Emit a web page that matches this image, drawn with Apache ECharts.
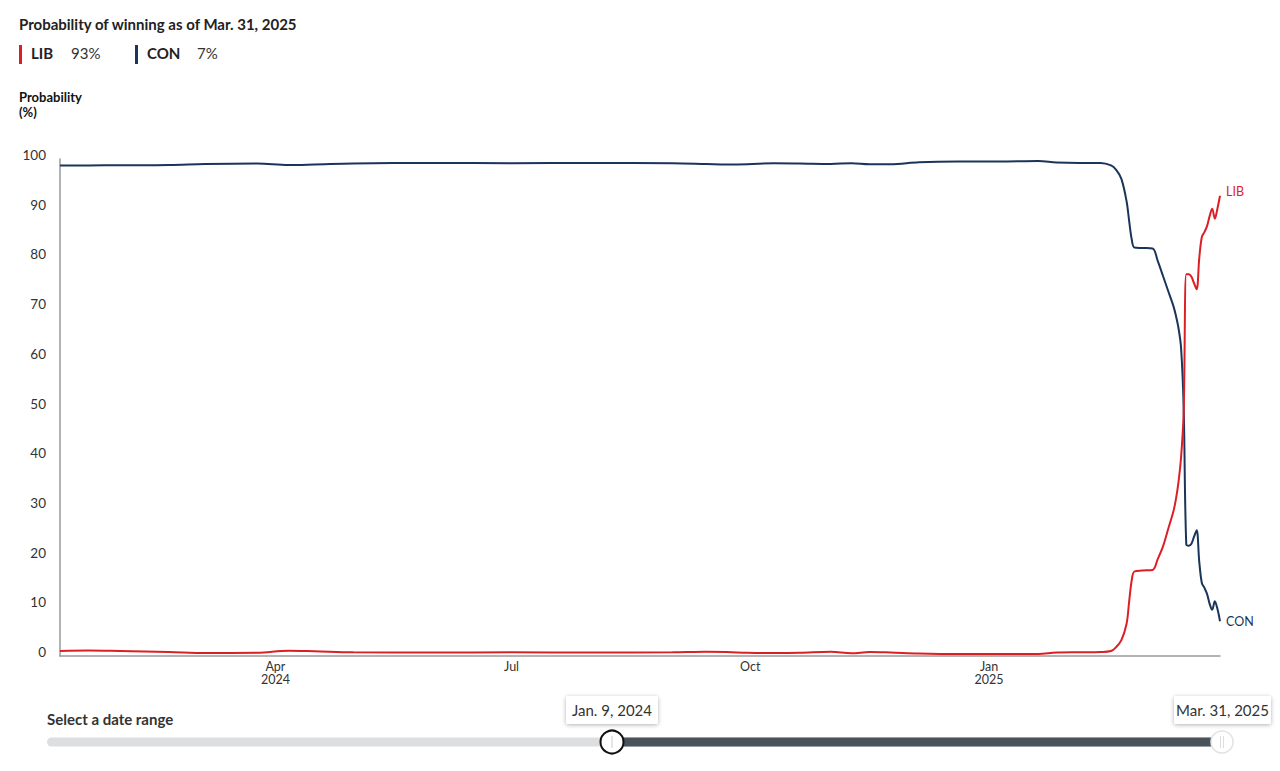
<!DOCTYPE html>
<html>
<head>
<meta charset="utf-8">
<script src="https://cdn.jsdelivr.net/npm/echarts@6/dist/echarts.min.js"></script>
<style>
html,body{margin:0;padding:0;background:#fff;}
#chart{width:1280px;height:771px;}
</style>
</head>
<body>
<div id="chart"></div>
<script>
// ---- Data ----
const dates = [
  '2024-01-09','2024-01-20','2024-02-01','2024-02-20','2024-03-05','2024-03-25','2024-04-06','2024-04-16',
  '2024-05-01','2024-06-01','2024-07-01','2024-08-01','2024-09-01','2024-09-14','2024-09-22','2024-09-30',
  '2024-10-10','2024-10-20','2024-11-01','2024-11-09','2024-11-16','2024-11-24','2024-12-05','2024-12-20',
  '2025-01-05','2025-01-20','2025-01-27','2025-02-05','2025-02-13','2025-02-17','2025-02-19','2025-02-21',
  '2025-02-23','2025-02-24','2025-02-25','2025-02-26','2025-03-01','2025-03-05','2025-03-07','2025-03-09',
  '2025-03-11','2025-03-13','2025-03-14','2025-03-15','2025-03-16','2025-03-17','2025-03-18','2025-03-19',
  '2025-03-20','2025-03-21','2025-03-22','2025-03-23','2025-03-24','2025-03-25','2025-03-26','2025-03-27',
  '2025-03-28','2025-03-29','2025-03-30','2025-03-31'
];
const conValues = [
  98.7, 98.7, 98.75, 98.8, 99.0, 99.1, 98.8, 98.9,
  99.1, 99.2, 99.15, 99.2, 99.15, 99.0, 98.9, 98.95,
  99.15, 99.1, 99.0, 99.15, 98.95, 98.95, 99.35, 99.5,
  99.5, 99.6, 99.3, 99.2, 99.2, 98.7, 97.8, 96.0,
  91.5, 87.5, 83.8, 82.2, 82.1, 82.0, 79.5, 76.5,
  73.5, 70.5, 68.5, 66.0, 62.0, 50.0, 22.5, 22.2,
  22.6, 24.0, 25.3, 19.0, 14.7, 13.7, 12.5, 10.5,
  9.3, 11.0, 9.5, 7.0
];
const libValues = [
  1.0, 1.1, 1.0, 0.8, 0.6, 0.65, 1.05, 0.95,
  0.75, 0.7, 0.75, 0.7, 0.75, 0.85, 0.8, 0.65,
  0.6, 0.65, 0.85, 0.55, 0.8, 0.7, 0.5, 0.4,
  0.4, 0.4, 0.7, 0.75, 0.8, 1.0, 1.8, 3.2,
  6.5, 11.0, 15.3, 17.0, 17.2, 17.3, 19.5, 22.0,
  25.5, 29.0, 31.5, 35.0, 40.0, 49.0, 76.8, 76.8,
  76.3, 75.0, 73.8, 80.0, 84.3, 85.3, 86.5, 88.5,
  90.0, 88.0, 90.0, 92.6
];
const seriesNames = ['LIB', 'CON'];
const xTickDates = ['2024-04-01', '2024-07-01', '2024-10-01', '2025-01-01'];
const monthNames = ['Jan','Feb','Mar','Apr','May','Jun','Jul','Aug','Sep','Oct','Nov','Dec'];
const yTicks = [0, 10, 20, 30, 40, 50, 60, 70, 80, 90, 100];
const rangeStartLabel = 'Jan. 9, 2024';
const rangeEndLabel = 'Mar. 31, 2025';
const titleText = 'Probability of winning as of Mar. 31, 2025';

// ---- Styles ----
const RED = '#dc1f26';
const NAVY = '#1b3459';
const FONT = 'Lato, "Noto Sans", sans-serif';

function toTs(s) { const p = s.split('-').map(Number); return Date.UTC(p[0], p[1]-1, p[2]); }

const libData = dates.map((d, i) => [toTs(d), libValues[i]]);
const conData = dates.map((d, i) => [toTs(d), conValues[i]]);
const libLast = Math.round(libValues[libValues.length - 1]);
const conLast = Math.round(conValues[conValues.length - 1]);
const firstTick = toTs(xTickDates[0]);

const chart = echarts.init(document.getElementById('chart'), null, {renderer: 'svg'});

const graphics = [
  {type:'text', left:19, top:16, style:{text:titleText, font:'bold 15px ' + FONT, fill:'#222'}},
  {type:'rect', shape:{x:19, y:45, width:3, height:19}, style:{fill:RED}},
  {type:'text', left:31, top:45, style:{text:seriesNames[0], font:'bold 15px ' + FONT, fill:'#222'}},
  {type:'text', left:71, top:45, style:{text:libLast + '%', font:'15px ' + FONT, fill:'#333'}},
  {type:'rect', shape:{x:135, y:45, width:3, height:19}, style:{fill:NAVY}},
  {type:'text', left:147, top:45, style:{text:seriesNames[1], font:'bold 15px ' + FONT, fill:'#222'}},
  {type:'text', left:197, top:45, style:{text:conLast + '%', font:'15px ' + FONT, fill:'#333'}},
  {type:'text', left:19, top:89, style:{text:'Probability\n(%)', font:'bold 13px ' + FONT, fill:'#111', lineHeight:15}},
  // slider
  {type:'text', left:47, top:711, style:{text:'Select a date range', font:'bold 15px ' + FONT, fill:'#333'}},
  {type:'rect', shape:{x:47, y:737.5, width:1178, height:9, r:4.5}, style:{fill:'#dcdedf'}},
  {type:'rect', shape:{x:612, y:737.5, width:610, height:9}, style:{fill:'#4b535a'}},
  {type:'circle', shape:{cx:612, cy:742, r:11.5}, style:{fill:'#fff', stroke:'#111', lineWidth:2}},
  {type:'line', shape:{x1:612, y1:736, x2:612, y2:748}, style:{stroke:'#ccc', lineWidth:1}},
  {type:'circle', shape:{cx:1222, cy:742, r:11}, style:{fill:'#fff', stroke:'#e2e2e2', lineWidth:1.5}},
  {type:'line', shape:{x1:1220.5, y1:736, x2:1220.5, y2:748}, style:{stroke:'#ddd', lineWidth:1}},
  {type:'line', shape:{x1:1223.5, y1:736, x2:1223.5, y2:748}, style:{stroke:'#ddd', lineWidth:1}},
  {type:'rect', shape:{x:566, y:696, width:92, height:28, r:2}, style:{fill:'#fff', shadowBlur:4, shadowOffsetY:1, shadowColor:'rgba(0,0,0,0.3)'}},
  {type:'text', x:612, y:710, style:{text:rangeStartLabel, font:'15px ' + FONT, fill:'#333', textAlign:'center', textVerticalAlign:'middle'}},
  {type:'rect', shape:{x:1174, y:696, width:97, height:28, r:2}, style:{fill:'#fff', shadowBlur:4, shadowOffsetY:1, shadowColor:'rgba(0,0,0,0.3)'}},
  {type:'text', x:1222.5, y:710, style:{text:rangeEndLabel, font:'15px ' + FONT, fill:'#333', textAlign:'center', textVerticalAlign:'middle'}}
];

const option = {
  animation: false,
  backgroundColor: '#fff',
  grid: {left: 60, right: 60, top: 159, bottom: 115, containLabel: false},
  xAxis: {
    type: 'value',
    min: toTs(dates[0]),
    max: toTs(dates[dates.length - 1]),
    axisLine: {show: true, lineStyle: {color: '#9a9a9a', width: 1.5}},
    axisTick: {show: false},
    splitLine: {show: false},
    axisLabel: {
      customValues: xTickDates.map(toTs),
      color: '#333',
      fontFamily: FONT,
      fontSize: 12.5,
      lineHeight: 13,
      margin: 4,
      hideOverlap: false,
      formatter: function (v) {
        const d = new Date(v);
        const m = monthNames[d.getUTCMonth()];
        if (d.getUTCMonth() === 0 || v === firstTick) return m + '\n' + d.getUTCFullYear();
        return m;
      }
    }
  },
  yAxis: {
    type: 'value',
    min: 0, max: 100, interval: 10,
    axisLine: {show: true, lineStyle: {color: '#9a9a9a', width: 1.5}},
    axisTick: {show: false},
    splitLine: {show: false},
    axisLabel: {
      color: '#333', fontFamily: FONT, fontSize: 13.5, margin: 14,
      verticalAlign: 'bottom', lineHeight: 8,
      formatter: function (v) { return yTicks.indexOf(v) >= 0 ? String(v) : ''; }
    }
  },
  series: [
    {
      name: seriesNames[0], type: 'line', data: libData, showSymbol: false, smooth: 0.35,
      lineStyle: {color: RED, width: 2}, itemStyle: {color: RED}, z: 3,
      endLabel: {show: true, formatter: '{a}', color: RED, fontFamily: FONT, fontSize: 12.5, offset: [0, -4], distance: 6}
    },
    {
      name: seriesNames[1], type: 'line', data: conData, showSymbol: false, smooth: 0.35,
      lineStyle: {color: NAVY, width: 2}, itemStyle: {color: NAVY}, z: 2,
      endLabel: {show: true, formatter: '{a}', color: NAVY, fontFamily: FONT, fontSize: 12.5, offset: [0, 0], distance: 6}
    }
  ],
  graphic: graphics
};
chart.setOption(option);
</script>
</body>
</html>
